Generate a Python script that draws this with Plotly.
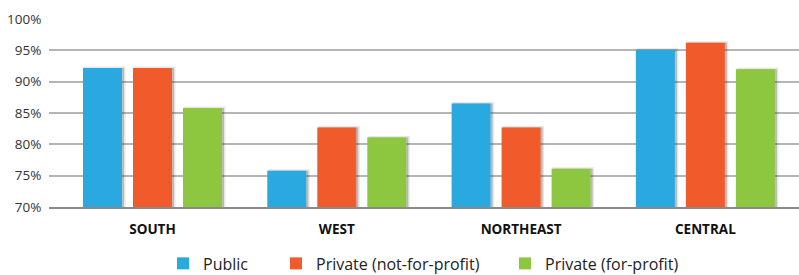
import plotly.graph_objects as go

regions = ["SOUTH", "WEST", "NORTHEAST", "CENTRAL"]
series_names = ["Public", "Private (not-for-profit)", "Private (for-profit)"]
public = [92.2, 75.8, 86.5, 95.1]
private_nfp = [92.2, 82.7, 82.7, 96.2]
private_fp = [85.8, 81.1, 76.1, 92.0]
colors = ["#29A9E0", "#F15A2B", "#8DC63F"]
y_ticks = [70, 75, 80, 85, 90, 95, 100]
y_tick_labels = ["70%", "75%", "80%", "85%", "90%", "95%", "100%"]

values = [public, private_nfp, private_fp]
legend_ids = ["legend", "legend2", "legend3"]
legend_x_px = [163, 276, 505]

fig = go.Figure()

# shadow traces (underneath, on primary axes slightly shifted)
for name, vals in zip(series_names, values):
    fig.add_trace(go.Bar(
        x=regions, y=vals, name=name + " shadow",
        marker=dict(color="rgba(60,60,60,0.28)", line=dict(color="rgba(60,60,60,0.12)", width=3)),
        showlegend=False, hoverinfo="skip", xaxis="x", yaxis="y"))

for name, vals, c, lg in zip(series_names, values, colors, legend_ids):
    fig.add_trace(go.Bar(
        x=regions, y=vals, name=name, legend=lg,
        marker=dict(color=c, line=dict(width=0)),
        xaxis="x2", yaxis="y2"))

rng = [-0.5616, 3.508]
shift = 2.0 / 184.3

legend_common = dict(orientation="h", xref="container", yref="container",
                     xanchor="left", y=0.042, yanchor="middle",
                     font=dict(family="Open Sans", size=16, color="#222"),
                     itemclick=False, bgcolor="rgba(0,0,0,0)")

fig.update_layout(
    width=799, height=275,
    margin=dict(l=49, r=0, t=19, b=67.5, autoexpand=False),
    paper_bgcolor="white", plot_bgcolor="white",
    barmode="group", bargap=0.186, bargroupgap=0.22,
    font=dict(family="Open Sans", color="#222"),
    xaxis=dict(range=[rng[0] - shift, rng[1] - shift], showticklabels=False,
               showgrid=False, zeroline=False, ticks="", automargin=False),
    xaxis2=dict(range=rng, overlaying="x", side="bottom", showgrid=False, zeroline=False,
                showline=True, linecolor="#8a8a8a", linewidth=2, automargin=False,
                ticks="outside", ticklen=9, tickcolor="rgba(0,0,0,0)",
                tickfont=dict(family="Open Sans", size=13.5, color="#111", weight="bold")),
    yaxis=dict(range=[70, 100], tickvals=y_ticks, ticktext=y_tick_labels, automargin=False,
               showgrid=True, gridcolor="#b5b5b5", gridwidth=1.5, zeroline=False,
               ticks="outside", ticklen=4, tickcolor="rgba(0,0,0,0)",
               tickfont=dict(family="Open Sans", size=13.5, color="#333")),
    yaxis2=dict(range=[70, 100], overlaying="y", showgrid=False, zeroline=False,
                showticklabels=False, automargin=False),
    legend=dict(x=legend_x_px[0] / 799, **legend_common),
    legend2=dict(x=legend_x_px[1] / 799, **legend_common),
    legend3=dict(x=legend_x_px[2] / 799, **legend_common),
    showlegend=True,
)

fig.write_html("out.html", config={"displayModeBar": False},
               post_script="document.body.style.margin='0';document.body.style.padding='0';")
